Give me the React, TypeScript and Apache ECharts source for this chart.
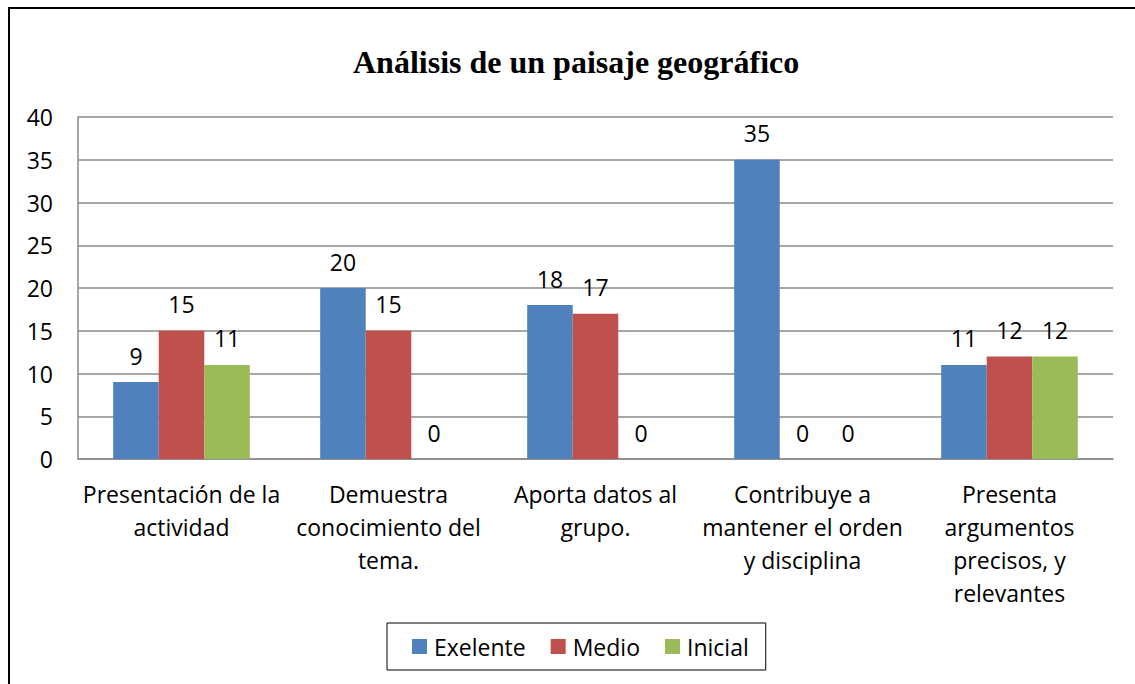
import React, { useEffect, useRef } from "react";
import * as echarts from "echarts";

const categories = [
  "Presentación de la\nactividad",
  "Demuestra\nconocimiento del\ntema.",
  "Aporta datos al\ngrupo.",
  "Contribuye a\nmantener el orden\ny disciplina",
  "Presenta\nargumentos\nprecisos, y\nrelevantes",
];
const exelente = [9, 20, 18, 35, 11];
const medio = [15, 15, 17, 0, 12];
const inicial = [11, 0, 0, 0, 12];
const seriesNames = ["Exelente", "Medio", "Inicial"];
const colors = ["#4F81BD", "#C0504D", "#9BBB59"];
const titleText = "Análisis de un paisaje geográfico";

const FONT = "Open Sans";
const FS = 23;

export default function App() {
  const ref = useRef<HTMLDivElement>(null);
  useEffect(() => {
    document.body.style.margin = "0";
    const chart = echarts.init(ref.current!, undefined, { renderer: "svg" });
    const label = {
      show: true,
      position: "top",
      distance: 15,
      color: "#000",
      fontFamily: FONT,
      fontSize: FS,
      lineHeight: FS,
    };
    const data = [exelente, medio, inicial];
    chart.setOption({
      animation: false,
      backgroundColor: "#fff",
      title: {
        text: titleText,
        left: 353,
        top: 46,
        padding: 0,
        textStyle: {
          fontFamily: "Liberation Serif",
          fontWeight: "bold",
          fontSize: 32,
          lineHeight: 32,
          color: "#000",
        },
      },
      graphic: [
        {
          type: "rect",
          shape: { x: 9, y: 8, width: 1300, height: 900 },
          style: { fill: "none", stroke: "#000", lineWidth: 2 },
          silent: true,
          z: 100,
        },
      ],
      legend: {
        data: seriesNames,
        left: 387,
        top: 623,
        padding: [12, 17, 12, 25],
        itemWidth: 15,
        itemHeight: 15,
        itemGap: 25,
        borderColor: "#000",
        borderWidth: 1,
        icon: "rect",
        textStyle: { fontFamily: FONT, fontSize: FS, color: "#000", padding: [0, 0, 0, 2] },
      },
      grid: { left: 78, right: 22, top: 117, bottom: 225 },
      xAxis: {
        type: "category",
        data: categories,
        axisLine: { show: true, lineStyle: { color: "#8a8a8a", width: 1.5 } },
        axisTick: { show: false },
        axisLabel: {
          interval: 0,
          margin: 18,
          fontFamily: FONT,
          fontSize: FS,
          lineHeight: 33,
          color: "#000",
          align: "center",
        },
      },
      yAxis: {
        type: "value",
        min: 0,
        max: 40,
        interval: 5,
        axisLine: { show: true, lineStyle: { color: "#8a8a8a", width: 1.5 } },
        axisTick: { show: false },
        splitLine: { show: true, lineStyle: { color: "#8a8a8a", width: 1.5 } },
        axisLabel: { margin: 25, fontFamily: FONT, fontSize: FS, color: "#000" },
      },
      series: seriesNames.map((name, i) => ({
        name,
        type: "bar",
        data: data[i],
        barGap: "0%",
        barCategoryGap: "34%",
        itemStyle: { color: colors[i] },
        label,
      })),
    });
    return () => chart.dispose();
  }, []);
  return <div ref={ref} style={{ width: 1135, height: 684 }} />;
}
